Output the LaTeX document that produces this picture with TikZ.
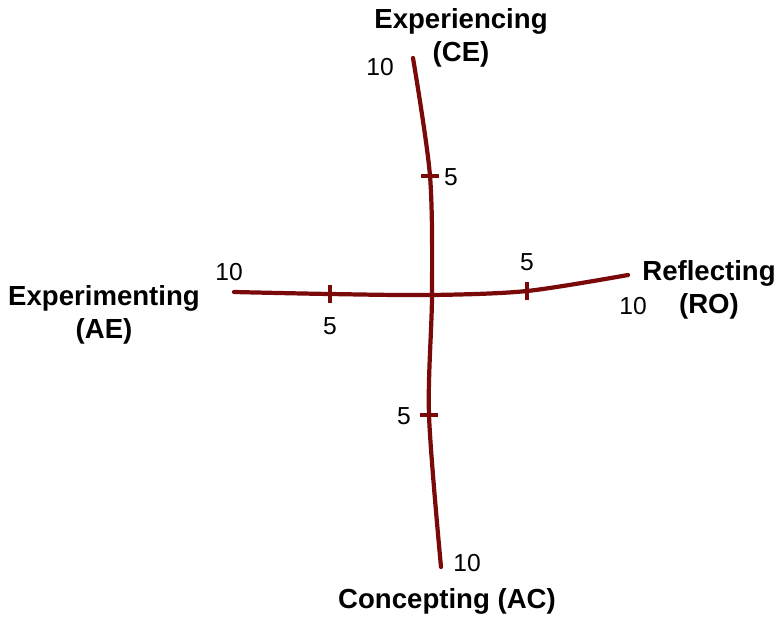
\documentclass[tikz,border=0pt]{standalone}
\usepackage{fontspec}
\setmainfont{Liberation Sans}
\definecolor{axisred}{RGB}{122,10,10}
\tikzset{
  axis/.style={draw=axisred, line width=2.4pt, line cap=round},
  tick/.style={draw=axisred, line width=2.4pt},
  pole/.style={font=\bfseries\fontsize{15.7}{19}\selectfont, align=center},
  num/.style={font=\fontsize{14}{16}\selectfont}
}
\begin{document}
\begin{tikzpicture}[x=0.02cm,y=-0.02cm]
  \useasboundingbox (0,0) rectangle (780,616);
  % points on the two axes
  \coordinate (ce10) at (413,58);
  \coordinate (ce5) at (430,176);
  \coordinate (o) at (432,295);
  \coordinate (ac5) at (429,415);
  \coordinate (ac10) at (441,567);
  \coordinate (ae10) at (234,292);
  \coordinate (ae5) at (330,294);
  \coordinate (ro5) at (527,291);
  \coordinate (ro10) at (628,275);
  % axes
  \draw[axis] plot[smooth, tension=0.5] coordinates {(ce10) (ce5) (o) (ac5) (ac10)};
  \draw[axis] plot[smooth, tension=0.5] coordinates {(ae10) (ae5) (o) (ro5) (ro10)};
  % ticks
  \draw[tick] (ce5) ++(-9,0) -- ++(18,0);
  \draw[tick] (ac5) ++(-9,0) -- ++(18,0);
  \draw[tick] (ae5) ++(0,-9) -- ++(0,18);
  \draw[tick] (ro5) ++(0,-9) -- ++(0,18);
  % poles
  \node[pole] (ce) at (461,38) {Experiencing\\(CE)};
  \node[pole] (ae) at (104,315) {Experimenting\\(AE)};
  \node[pole] (ro) at (709,290) {Reflecting\\(RO)};
  \node[pole] (ac) at (447,601) {Concepting (AC)};
  % scale numbers
  \node[num] (nce10) at (380,67) {10};
  \node[num] (nce5) at (451,177) {5};
  \node[num] (nae10) at (229,272) {10};
  \node[num] (nae5) at (330,326) {5};
  \node[num] (nro5) at (527,262) {5};
  \node[num] (nro10) at (633,306) {10};
  \node[num] (nac5) at (404,416) {5};
  \node[num] (nac10) at (467,563) {10};
\end{tikzpicture}
\end{document}
